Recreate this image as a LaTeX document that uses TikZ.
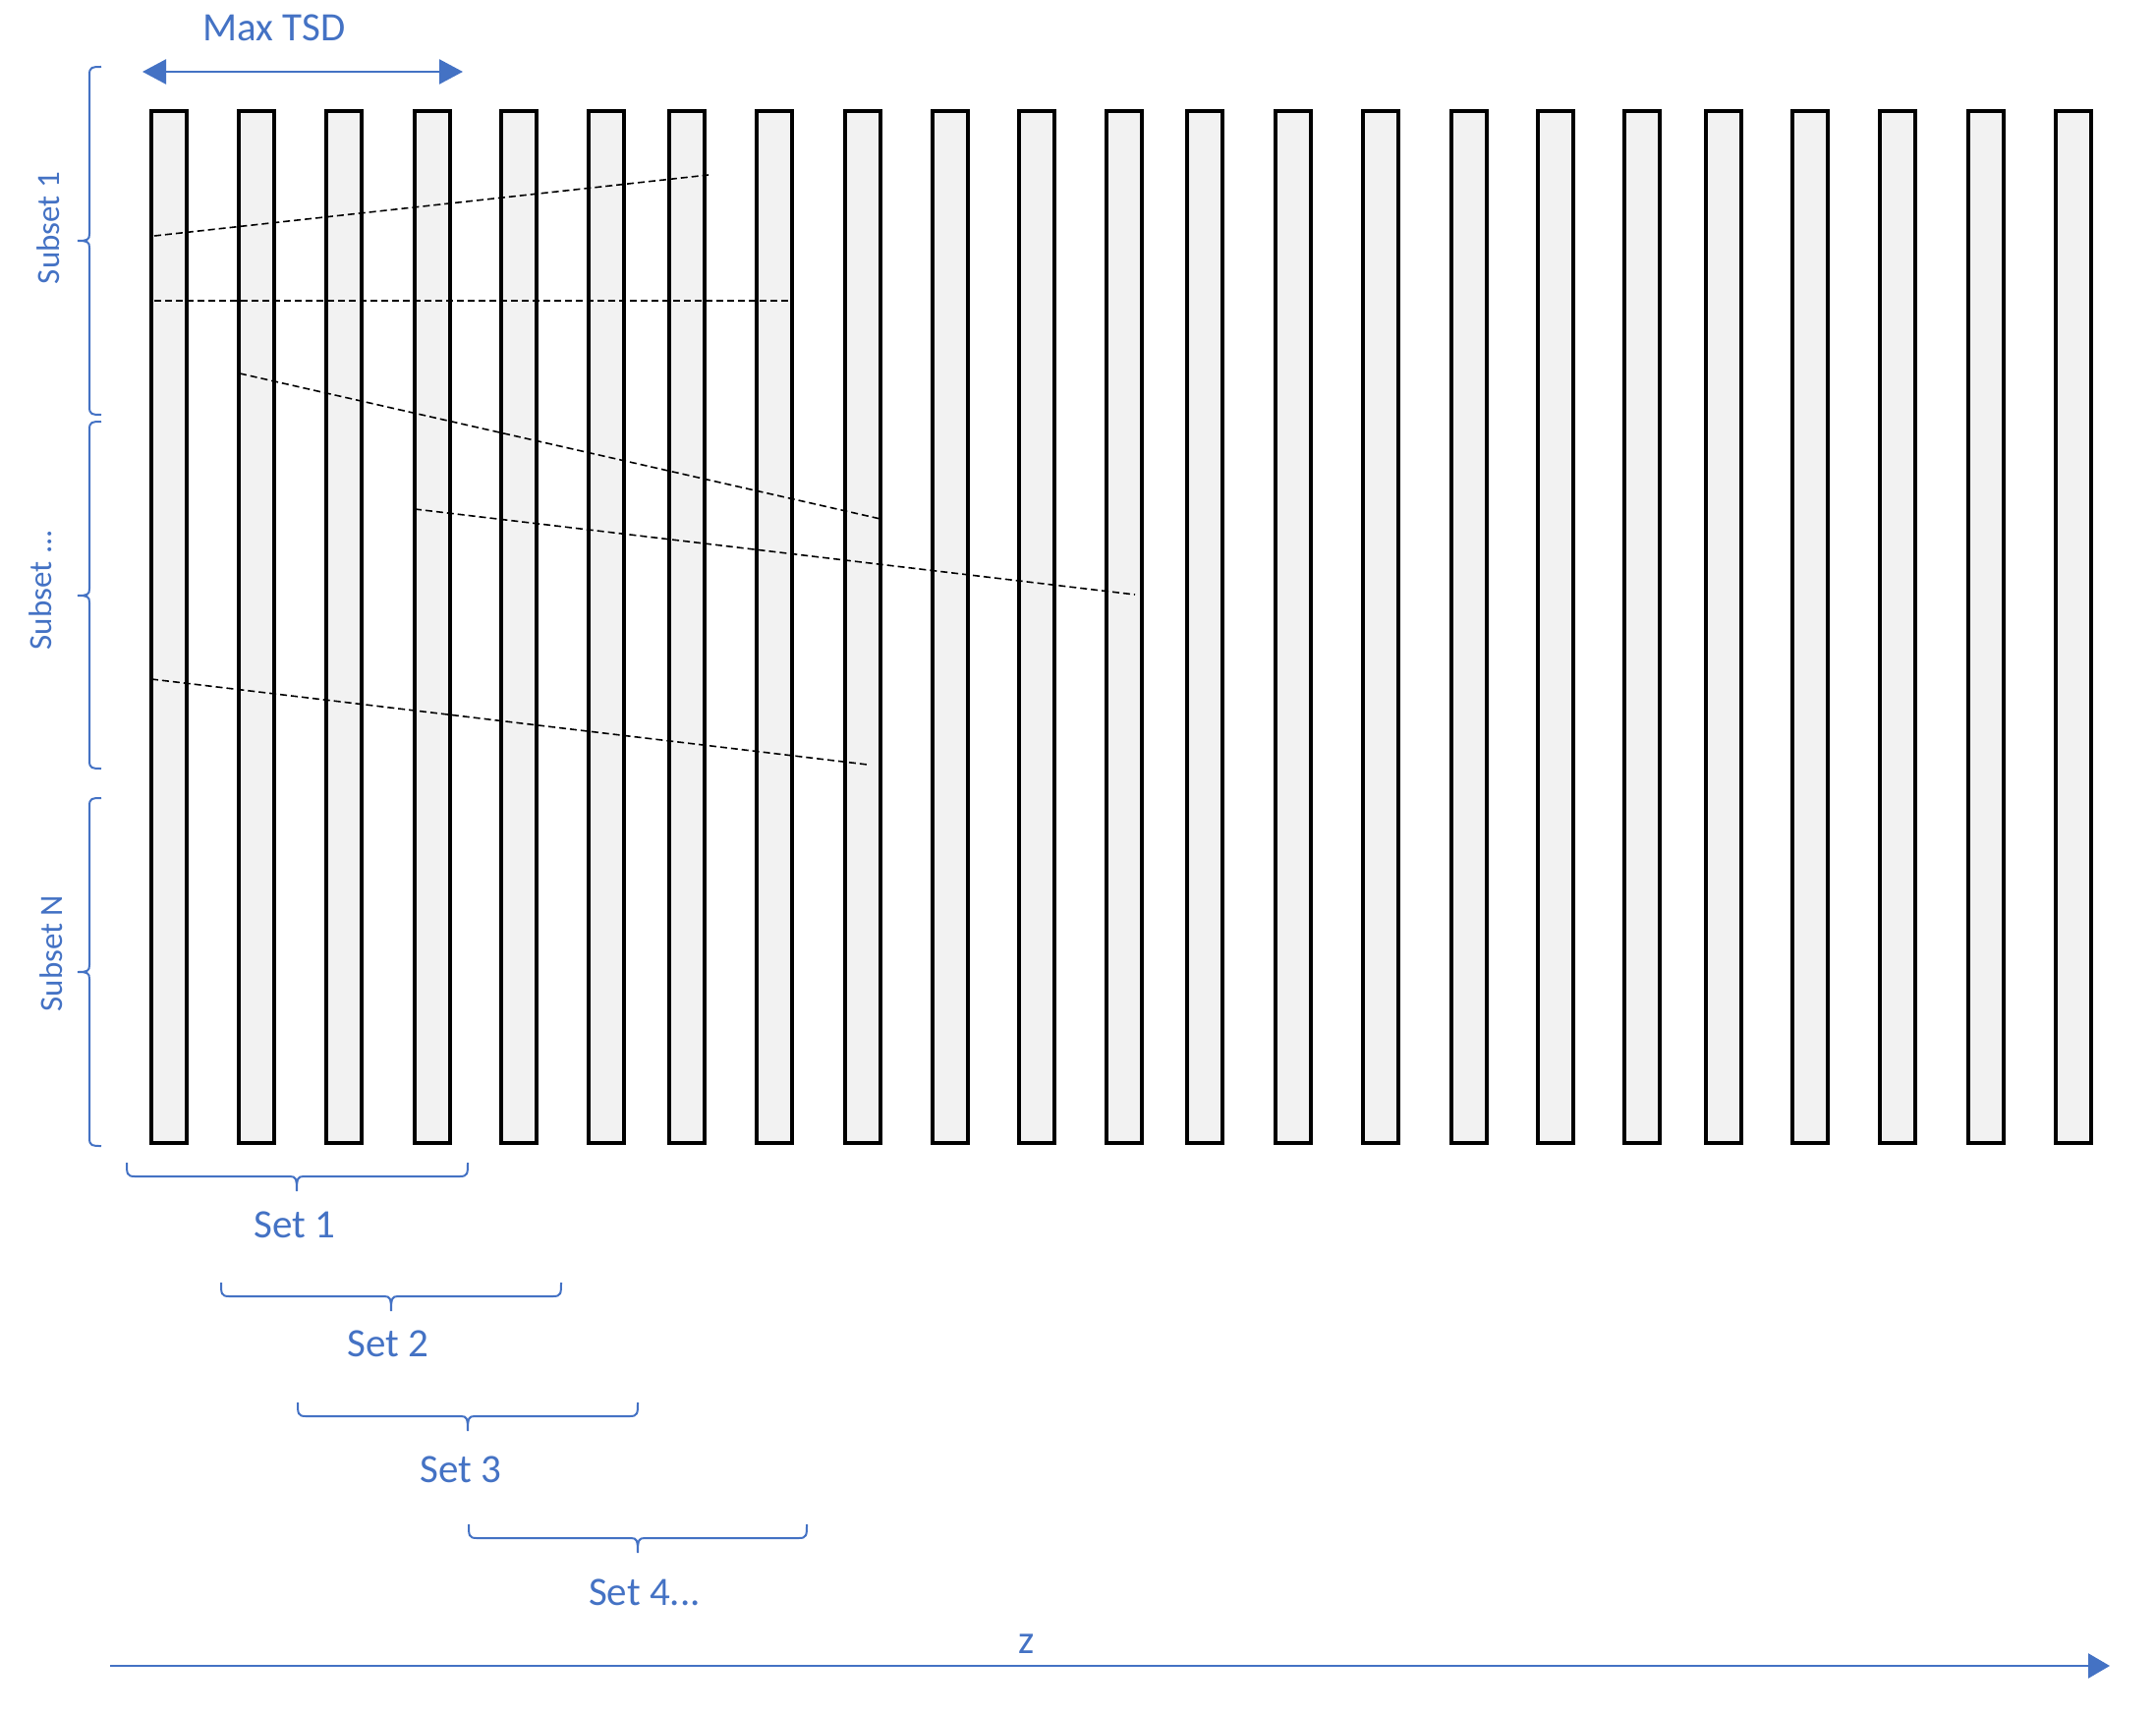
\documentclass[tikz,border=0pt]{standalone}
\usepackage{fontspec}
\setmainfont{Carlito}
\usetikzlibrary{arrows.meta}
\definecolor{obl}{HTML}{4472C4}
\definecolor{barfill}{HTML}{F2F2F2}
\newcommand\myvbrace[3]{%
  \draw[brc] (103,#1) .. controls (94,#1) and (91,#1) .. (91,#1+8) -- (91,#2-7)
    .. controls (91,#2-1) and (89,#2) .. (79,#2)
    .. controls (89,#2) and (91,#2+1) .. (91,#2+7) -- (91,#3-8)
    .. controls (91,#3) and (94,#3) .. (103,#3);}
\newcommand\myhbrace[4]{%
  \draw[brc] (#1,#4) .. controls (#1,#4+11) and (#1,#4+14) .. (#1+8,#4+14) -- (#2-7,#4+14)
    .. controls (#2-1,#4+14) and (#2,#4+16) .. (#2,#4+29)
    .. controls (#2,#4+16) and (#2+1,#4+14) .. (#2+7,#4+14) -- (#3-8,#4+14)
    .. controls (#3,#4+14) and (#3,#4+11) .. (#3,#4);}
\begin{document}
\begin{tikzpicture}[x=1pt,y=-1pt,
  barbox/.style={draw=black,fill=barfill,line width=4pt,minimum width=36pt,minimum height=1050pt,inner sep=0pt},
  brc/.style={draw=obl,line width=2pt},
  dsh/.style={draw=black,line width=1.6pt,dash pattern=on 7pt off 4pt},
  lbl/.style={text=obl,font=\fontsize{41}{49}\selectfont,inner sep=0pt,anchor=base},
  slbl/.style={text=obl,font=\fontsize{33}{40}\selectfont,inner sep=0pt,rotate=90,anchor=base},
  blarrow/.style={draw=obl,line width=2.5pt}]
\useasboundingbox (0,0) rectangle (2194,1744);
% bars
\foreach \x [count=\i] in {172,261,350,440,528,617,699,788,878,967,1055,1144,1226,1316,1405,1495,1583,1671,1754,1842,1931,2021,2110}
  \node[barbox] (b\i) at (\x,638) {};
% dashed lines
\coordinate (d1s) at (157,240); \coordinate (d1e) at (721,178);
\coordinate (d2s) at (157,306); \coordinate (d2e) at (805,306);
\coordinate (d3s) at (244,380); \coordinate (d3e) at (896,528);
\coordinate (d4s) at (422,518); \coordinate (d4e) at (1155,605);
\coordinate (d5s) at (154,691); \coordinate (d5e) at (883,778);
\draw[dsh] (d1s) -- (d1e);
\draw[dsh] (d2s) -- (d2e);
\draw[dsh] (d3s) -- (d3e);
\draw[dsh] (d4s) -- (d4e);
\draw[dsh] (d5s) -- (d5e);
% Max TSD
\node[lbl] (maxtsd) at (279,42) {Max TSD};
\coordinate (mta) at (145,73); \coordinate (mtb) at (471,73);
\draw[blarrow,{Triangle[length=24pt,width=25pt]}-{Triangle[length=24pt,width=25pt]}] (mta) -- (mtb);
% subset braces
\myvbrace{68}{245}{422}
\myvbrace{429}{606}{782}
\myvbrace{812}{989}{1166}
\node[slbl] (s1) at (60,232) {Subset 1};
\node[slbl] (s2) at (52,600) {Subset ...};
\node[slbl] (s3) at (63,970) {Subset N};
% set braces
\myhbrace{129}{302}{476}{1183}
\myhbrace{225}{398}{571}{1305}
\myhbrace{303}{476}{649}{1427}
\myhbrace{477}{649}{821}{1551}
\node[lbl] (set1) at (300,1259) {Set 1};
\node[lbl] (set2) at (395,1380) {Set 2};
\node[lbl] (set3) at (469,1508) {Set 3};
\node[lbl] (set4) at (656,1633) {Set 4...};
% z axis
\coordinate (za) at (112,1695); \coordinate (zb) at (2147,1695);
\draw[blarrow,-{Triangle[length=22pt,width=25pt]}] (za) -- (zb);
\node[lbl] (zl) at (1045,1682) {z};
\end{tikzpicture}
\end{document}
